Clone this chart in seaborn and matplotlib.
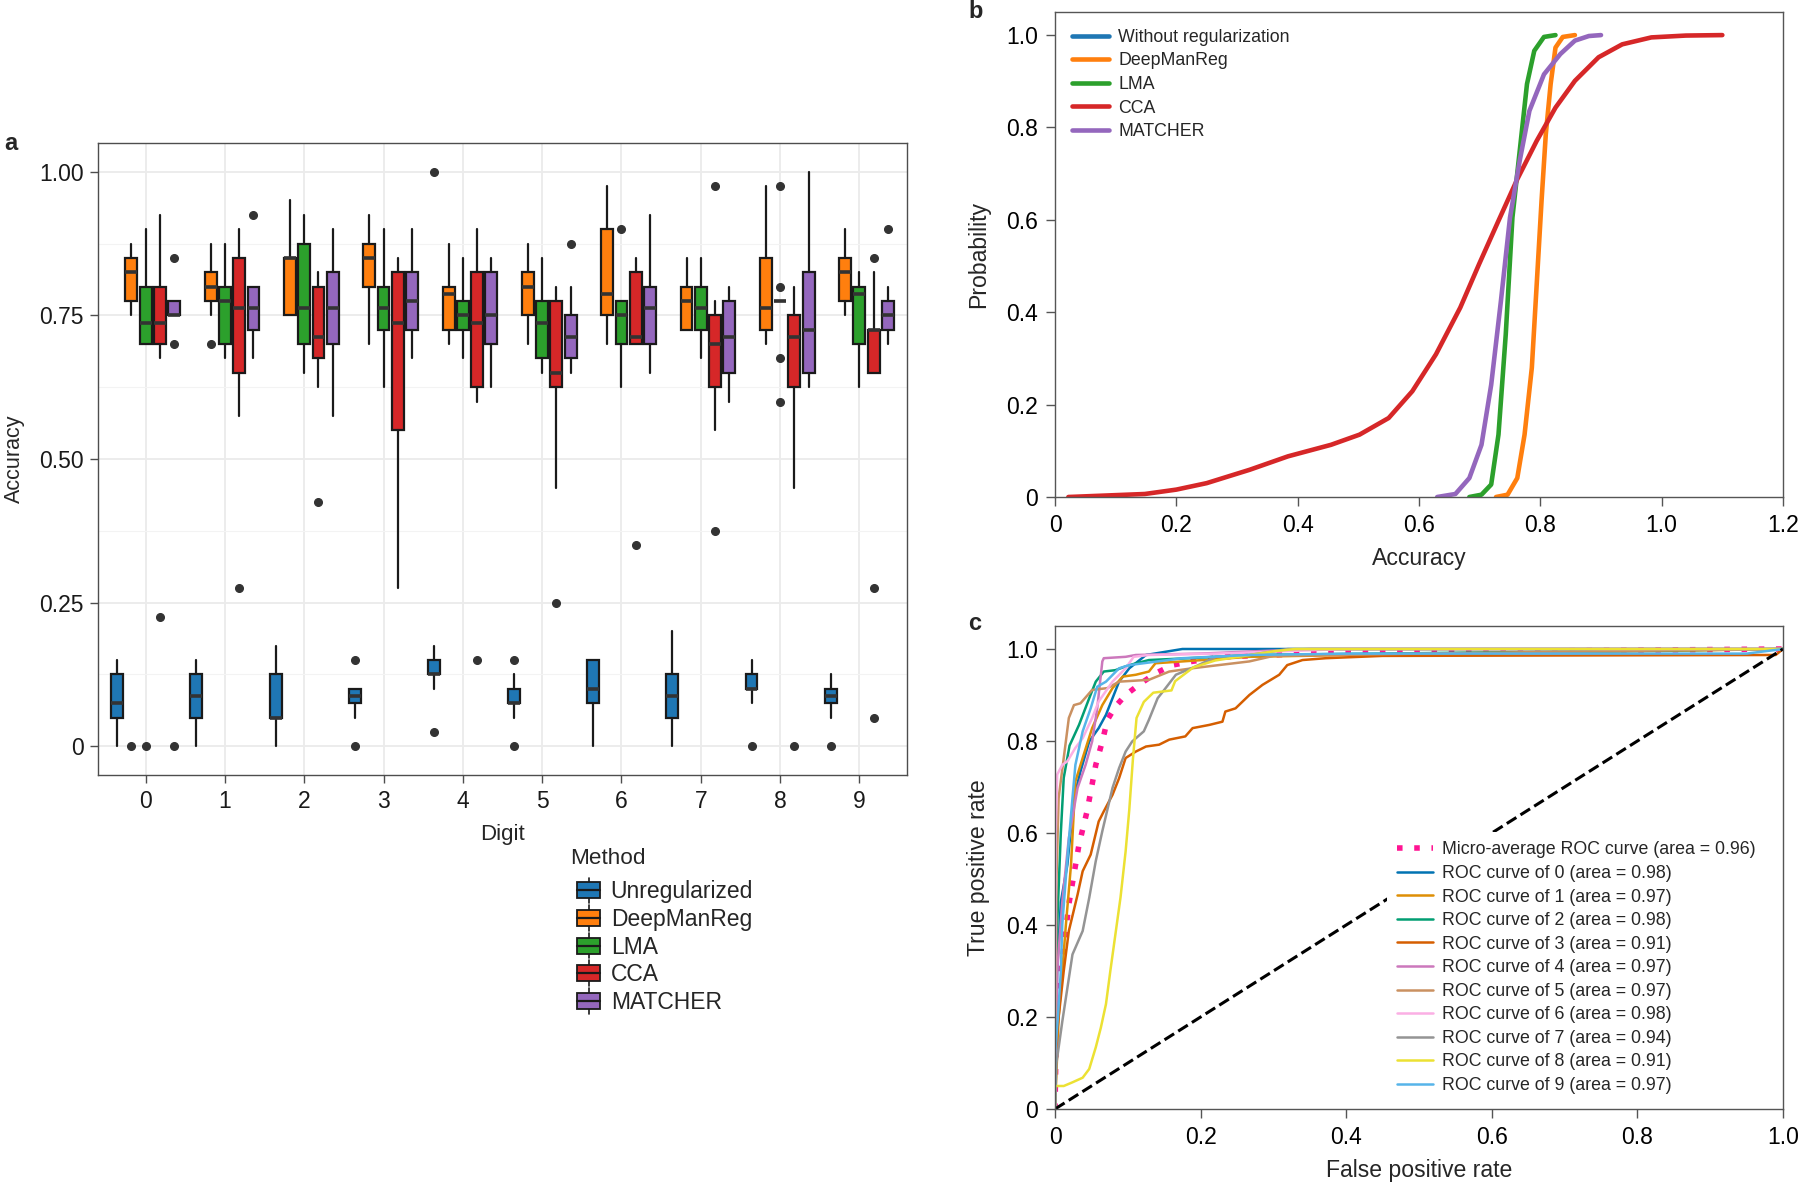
import matplotlib
matplotlib.use("Agg")
import matplotlib.pyplot as plt
from matplotlib.legend_handler import HandlerBase
from matplotlib.lines import Line2D
from matplotlib.patches import Patch, Rectangle
import seaborn as sns

# ---------------- data: panel a (box summaries) ----------------
digits = list(range(10))
methods = ["Unregularized", "DeepManReg", "LMA", "CCA", "MATCHER"]
method_colors = ["#1F77B4", "#FF7F0E", "#2CA02C", "#D62728", "#9467BD"]

# (whislo, q1, median, q3, whishi) per digit
unreg_stats = [(0, 0.05, 0.075, 0.125, 0.15), (0, 0.05, 0.0875, 0.125, 0.15),
               (0, 0.05, 0.05, 0.125, 0.175), (0.05, 0.075, 0.0875, 0.1, 0.1),
               (0.1, 0.125, 0.125, 0.15, 0.175), (0.05, 0.075, 0.075, 0.1, 0.125),
               (0, 0.075, 0.1, 0.15, 0.15), (0, 0.05, 0.0875, 0.125, 0.2),
               (0.075, 0.1, 0.1, 0.125, 0.15), (0.05, 0.075, 0.0875, 0.1, 0.125)]
unreg_fliers = [[], [], [], [0.15, 0], [1.0, 0.025], [0.15, 0], [], [], [0], [0]]

dmr_stats = [(0.75, 0.775, 0.825, 0.85, 0.875), (0.75, 0.775, 0.8, 0.825, 0.875),
             (0.75, 0.75, 0.85, 0.85, 0.95), (0.7, 0.8, 0.85, 0.875, 0.925),
             (0.7, 0.725, 0.7875, 0.8, 0.875), (0.7, 0.75, 0.8, 0.825, 0.875),
             (0.7, 0.75, 0.7875, 0.9, 0.975), (0.725, 0.725, 0.775, 0.8, 0.85),
             (0.7, 0.725, 0.7625, 0.85, 0.975), (0.75, 0.775, 0.825, 0.85, 0.9)]
dmr_fliers = [[0], [0.7], [], [], [], [], [], [], [], []]

lma_stats = [(0.7, 0.7, 0.7375, 0.8, 0.9), (0.675, 0.7, 0.775, 0.8, 0.875),
             (0.65, 0.7, 0.7625, 0.875, 0.925), (0.625, 0.725, 0.7625, 0.8, 0.9),
             (0.675, 0.725, 0.75, 0.775, 0.85), (0.65, 0.675, 0.7375, 0.775, 0.85),
             (0.625, 0.7, 0.75, 0.775, 0.775), (0.675, 0.725, 0.7625, 0.8, 0.85),
             (0.775, 0.775, 0.775, 0.775, 0.775), (0.625, 0.7, 0.7875, 0.8, 0.825)]
lma_fliers = [[0], [], [], [], [], [], [0.9], [], [0.975, 0.8, 0.675, 0.6], []]

cca_stats = [(0.675, 0.7, 0.7375, 0.8, 0.925), (0.575, 0.65, 0.7625, 0.85, 0.9),
             (0.625, 0.675, 0.7125, 0.8, 0.825), (0.275, 0.55, 0.7375, 0.825, 0.85),
             (0.6, 0.625, 0.7375, 0.825, 0.9), (0.45, 0.625, 0.65, 0.775, 0.8),
             (0.7, 0.7, 0.7125, 0.825, 0.85), (0.55, 0.625, 0.7, 0.75, 0.775),
             (0.45, 0.625, 0.7125, 0.75, 0.8), (0.65, 0.65, 0.725, 0.725, 0.825)]
cca_fliers = [[0.225], [0.275], [0.425], [], [0.15], [0.25], [0.35], [0.975, 0.375],
              [0], [0.85, 0.275, 0.05]]

matcher_stats = [(0.75, 0.75, 0.75, 0.775, 0.775), (0.675, 0.725, 0.7625, 0.8, 0.8),
                 (0.575, 0.7, 0.7625, 0.825, 0.9), (0.675, 0.725, 0.775, 0.825, 0.9),
                 (0.625, 0.7, 0.75, 0.825, 0.85), (0.65, 0.675, 0.7125, 0.75, 0.8),
                 (0.65, 0.7, 0.7625, 0.8, 0.925), (0.6, 0.65, 0.7125, 0.775, 0.8),
                 (0.625, 0.65, 0.725, 0.825, 1.0), (0.7, 0.725, 0.75, 0.775, 0.8)]
matcher_fliers = [[0.85, 0.7, 0], [0.925], [], [], [], [0.875], [], [], [], [0.9]]

all_stats = [unreg_stats, dmr_stats, lma_stats, cca_stats, matcher_stats]
all_fliers = [unreg_fliers, dmr_fliers, lma_fliers, cca_fliers, matcher_fliers]

# ---------------- data: panel b (cumulative curves) ----------------
cdf_labels = ["Without regularization", "DeepManReg", "LMA", "CCA", "MATCHER"]
dmr_x = [0.727, 0.746, 0.762, 0.774, 0.786, 0.794, 0.802, 0.809, 0.817, 0.825, 0.837, 0.857]
dmr_y = [0, 0.005, 0.041, 0.135, 0.28, 0.46, 0.641, 0.785, 0.894, 0.973, 0.996, 1.0]
lma_x = [0.683, 0.703, 0.719, 0.731, 0.743, 0.754, 0.766, 0.778, 0.79, 0.806, 0.825]
lma_y = [0, 0.005, 0.027, 0.135, 0.352, 0.605, 0.749, 0.894, 0.966, 0.996, 1.0]
cca_x = [0.022, 0.148, 0.2, 0.25, 0.321, 0.384, 0.455, 0.502, 0.55, 0.589, 0.628, 0.668,
         0.699, 0.731, 0.762, 0.794, 0.825, 0.857, 0.896, 0.935, 0.983, 1.04, 1.1]
cca_y = [0, 0.0065, 0.016, 0.03, 0.059, 0.088, 0.113, 0.135, 0.171, 0.229, 0.309, 0.41,
         0.504, 0.598, 0.688, 0.771, 0.843, 0.901, 0.952, 0.98, 0.995, 0.999, 1.0]
matcher_x = [0.63, 0.66, 0.683, 0.703, 0.719, 0.735, 0.75, 0.766, 0.782, 0.806, 0.833,
             0.857, 0.88, 0.9]
matcher_y = [0, 0.0065, 0.041, 0.113, 0.243, 0.424, 0.605, 0.728, 0.836, 0.915, 0.959,
             0.988, 0.998, 1.0]

# ---------------- data: panel c (ROC curves) ----------------
roc_areas = [0.98, 0.97, 0.98, 0.91, 0.97, 0.97, 0.98, 0.94, 0.91, 0.97]
micro_area = 0.96
micro_fpr = [0, 0.002, 0.006, 0.012, 0.019, 0.033, 0.044, 0.056, 0.065, 0.072, 0.083, 0.097,
             0.115, 0.138, 0.161, 0.188, 0.23, 0.35, 0.6, 1.0]
micro_tpr = [0, 0.2, 0.27, 0.35, 0.445, 0.575, 0.647, 0.748, 0.799, 0.846, 0.875, 0.9,
             0.922, 0.947, 0.965, 0.973, 0.983, 0.99, 0.995, 1.0]
roc_fpr = [
    [0, 0.003, 0.008, 0.017, 0.026, 0.035, 0.047, 0.06, 0.07, 0.079, 0.088, 0.102, 0.125, 0.175, 1.0],
    [0, 0.005, 0.01, 0.015, 0.022, 0.028, 0.038, 0.051, 0.065, 0.079, 0.093, 0.111, 0.129, 0.138,
     0.175, 0.267, 0.404, 0.6, 1.0],
    [0, 0.003, 0.008, 0.012, 0.02, 0.033, 0.047, 0.056, 0.067, 0.083, 0.102, 0.129, 0.184, 0.267,
     0.45, 1.0],
    [0, 0.002, 0.005, 0.012, 0.019, 0.031, 0.038, 0.049, 0.06, 0.067, 0.079, 0.088, 0.097, 0.111,
     0.125, 0.143, 0.157, 0.179, 0.189, 0.212, 0.23, 0.234, 0.248, 0.267, 0.285, 0.308, 0.319,
     0.34, 0.372, 0.45, 0.99, 1.0],
    [0, 0.003, 0.01, 0.019, 0.031, 0.042, 0.051, 0.058, 0.065, 0.067, 0.097, 0.111, 0.2, 0.35, 1.0],
    [0, 0.002, 0.005, 0.012, 0.019, 0.026, 0.035, 0.051, 0.072, 0.088, 0.129, 0.157, 0.188, 0.267,
     0.3, 0.5, 1.0],
    [0, 0.001, 0.003, 0.01, 0.017, 0.028, 0.038, 0.051, 0.06, 0.079, 0.097, 0.108, 0.129, 0.221,
     0.4, 1.0],
    [0, 0.002, 0.01, 0.024, 0.038, 0.047, 0.056, 0.065, 0.079, 0.088, 0.097, 0.106, 0.122, 0.129,
     0.141, 0.15, 0.166, 0.193, 0.221, 0.267, 0.32, 1.0],
    [0, 0, 0.012, 0.024, 0.038, 0.047, 0.056, 0.063, 0.07, 0.076, 0.083, 0.09, 0.097, 0.102,
     0.107, 0.112, 0.122, 0.135, 0.16, 0.165, 0.19, 0.22, 0.26, 0.3, 0.33, 1.0],
    [0, 0, 0.004, 0.008, 0.01, 0.017, 0.024, 0.028, 0.038, 0.049, 0.058, 0.07, 0.088, 0.102,
     0.175, 0.267, 0.404, 0.95, 1.0],
]
roc_tpr = [
    [0, 0.3, 0.45, 0.531, 0.676, 0.734, 0.799, 0.828, 0.857, 0.893, 0.929, 0.958, 0.987, 1.0, 1.0],
    [0, 0.2, 0.3, 0.401, 0.531, 0.712, 0.763, 0.828, 0.878, 0.915, 0.94, 0.944, 0.951, 0.969,
     0.973, 0.983, 0.987, 0.99, 1.0],
    [0, 0.4, 0.6, 0.72, 0.79, 0.835, 0.893, 0.929, 0.951, 0.954, 0.965, 0.976, 0.98, 0.987,
     0.99, 1.0],
    [0, 0.15, 0.2, 0.3, 0.387, 0.466, 0.517, 0.553, 0.625, 0.647, 0.683, 0.719, 0.763, 0.777,
     0.788, 0.792, 0.803, 0.81, 0.828, 0.835, 0.842, 0.864, 0.871, 0.9, 0.922, 0.944, 0.965,
     0.976, 0.98, 0.985, 0.987, 1.0],
    [0, 0.3, 0.45, 0.589, 0.698, 0.748, 0.799, 0.871, 0.973, 0.98, 0.983, 0.987, 0.99, 1.0, 1.0],
    [0, 0.5, 0.676, 0.763, 0.85, 0.878, 0.882, 0.911, 0.915, 0.929, 0.933, 0.951, 0.958, 0.973,
     0.985, 0.99, 1.0],
    [0, 0.6, 0.727, 0.748, 0.756, 0.785, 0.806, 0.85, 0.886, 0.929, 0.958, 0.983, 0.987, 0.99,
     1.0, 1.0],
    [0, 0.1, 0.19, 0.336, 0.387, 0.459, 0.539, 0.604, 0.698, 0.741, 0.777, 0.799, 0.821, 0.846,
     0.893, 0.911, 0.944, 0.962, 0.983, 0.987, 1.0, 1.0],
    [0, 0.05, 0.05, 0.058, 0.068, 0.087, 0.134, 0.177, 0.228, 0.3, 0.38, 0.46, 0.56, 0.65,
     0.76, 0.85, 0.885, 0.905, 0.91, 0.93, 0.96, 0.975, 0.985, 0.995, 1.0, 1.0],
    [0, 0.12, 0.2, 0.3, 0.401, 0.546, 0.676, 0.748, 0.821, 0.871, 0.918, 0.929, 0.958, 0.965,
     0.98, 0.987, 0.99, 0.99, 1.0],
]

# ---------------- style ----------------
sns.set_theme(style="ticks")
plt.rcParams["font.family"] = ["Liberation Sans", "DejaVu Sans"]

fig = plt.figure(figsize=(18, 11.85), dpi=100)
W, H = 1800, 1185


def axes_px(left, top, right, bottom):
    return fig.add_axes([left / W, 1 - bottom / H, (right - left) / W, (bottom - top) / H])


# ---------------- panel a ----------------
ax_a = axes_px(98, 143, 907, 775)
offsets = [-0.36, -0.18, 0, 0.18, 0.36]
for m, (stats_m, fl_m) in enumerate(zip(all_stats, all_fliers)):
    bstats = []
    for d in digits:
        lo, q1, med, q3, hi = stats_m[d]
        bstats.append(dict(whislo=lo, q1=q1, med=med, q3=q3, whishi=hi, fliers=fl_m[d]))
    ax_a.bxp(bstats, positions=[d + offsets[m] for d in digits], widths=0.15,
             patch_artist=True, showcaps=False, manage_ticks=False,
             boxprops=dict(facecolor=method_colors[m], edgecolor="#1a1a1a", linewidth=1.6),
             medianprops=dict(color="#333333", linewidth=2.6),
             whiskerprops=dict(color="#1a1a1a", linewidth=1.6),
             flierprops=dict(marker="o", markerfacecolor="#333333", markeredgecolor="#333333",
                             markersize=5.5))

ax_a.set_xlim(-0.6, 9.6)
ax_a.set_ylim(-0.05, 1.05)
ax_a.set_xticks(digits)
ax_a.set_xticklabels([str(d) for d in digits])
ax_a.set_yticks([0, 0.25, 0.5, 0.75, 1.0])
ax_a.set_yticklabels(["0", "0.25", "0.50", "0.75", "1.00"])
ax_a.set_yticks([0.125, 0.375, 0.625, 0.875], minor=True)
ax_a.grid(True, which="major", color="#EBEBEB", linewidth=1.3)
ax_a.grid(True, which="minor", axis="y", color="#F3F3F3", linewidth=0.8)
ax_a.set_axisbelow(True)
ax_a.tick_params(axis="both", which="major", direction="out", length=5.5, width=1,
                 color="#4d4d4d", labelsize=16.5, labelcolor="#1a1a1a", pad=5)
ax_a.tick_params(axis="y", which="minor", length=0)
for s in ax_a.spines.values():
    s.set_color("#4d4d4d")
    s.set_linewidth(1)
ax_a.set_xlabel("Digit", fontsize=16, labelpad=8)
ax_a.set_ylabel("Accuracy", fontsize=15.5, labelpad=10)


class BoxHandler(HandlerBase):
    def create_artists(self, legend, orig_handle, xdescent, ydescent, width, height,
                       fontsize, trans):
        x0, y0 = -xdescent, -ydescent
        cx = x0 + width / 2
        whisk = Line2D([cx, cx], [y0 - 0.3 * height, y0 + 1.3 * height], color="#1a1a1a", lw=1.2)
        box = Rectangle((x0, y0), width, height, facecolor=orig_handle.get_facecolor(),
                        edgecolor="#1a1a1a", lw=1.3)
        med = Line2D([x0, x0 + width], [y0 + height / 2] * 2, color="#1a1a1a", lw=1.6)
        for a in (whisk, box, med):
            a.set_transform(trans)
        return [whisk, box, med]


# legend of panel a: title as its own text, entries below it
fig.text(570 / W, 1 - 859 / H, "Method", fontsize=16.2, ha="left", va="center")
handles_a = [Patch(facecolor=c) for c in method_colors]
leg_a = fig.legend(handles_a, methods, handler_map={Patch: BoxHandler()},
                   loc="upper left", bbox_to_anchor=(566 / W, 1 - 869 / H), frameon=False,
                   fontsize=16.5, handlelength=1.0, handleheight=0.7, handletextpad=0.45,
                   labelspacing=0.2, borderpad=0)

# ---------------- panel b ----------------
ax_b = axes_px(1055, 12, 1783, 497)
ax_b.plot([], [], color="#1F77B4", lw=3.3, label=cdf_labels[0])
for xs, ys, c, lab in [(dmr_x, dmr_y, "#FF7F0E", cdf_labels[1]),
                       (lma_x, lma_y, "#2CA02C", cdf_labels[2]),
                       (cca_x, cca_y, "#D62728", cdf_labels[3]),
                       (matcher_x, matcher_y, "#9467BD", cdf_labels[4])]:
    sns.lineplot(x=xs, y=ys, ax=ax_b, color=c, lw=3.3, sort=False, estimator=None, label=lab)
ax_b.set_xlim(0, 1.2)
ax_b.set_ylim(0, 1.05)
ax_b.set_xticks([0, 0.2, 0.4, 0.6, 0.8, 1.0, 1.2])
ax_b.set_xticklabels(["0", "0.2", "0.4", "0.6", "0.8", "1.0", "1.2"])
ax_b.set_yticks([0, 0.2, 0.4, 0.6, 0.8, 1.0])
ax_b.set_yticklabels(["0", "0.2", "0.4", "0.6", "0.8", "1.0"])
ax_b.set_xlabel("Accuracy", fontsize=16.6, labelpad=7)
ax_b.set_ylabel("Probability", fontsize=16.6, labelpad=11)
ax_b.legend(loc="upper left", frameon=False, fontsize=12.8, handlelength=2.1,
            handletextpad=0.5, labelspacing=0.37, borderaxespad=0.3, borderpad=0.65)

# ---------------- panel c ----------------
ax_c = axes_px(1055, 626, 1783, 1109)
roc_colors = sns.color_palette("colorblind", 10)
sns.lineplot(x=micro_fpr, y=micro_tpr, ax=ax_c, color="#FF1493", lw=4,
             linestyle=(0, (1, 2.1)), sort=False, estimator=None,
             label=f"Micro-average ROC curve (area = {micro_area:.2f})")
for i in range(10):
    sns.lineplot(x=roc_fpr[i], y=roc_tpr[i], ax=ax_c, color=roc_colors[i], lw=1.8,
                 sort=False, estimator=None,
                 label=f"ROC curve of {i} (area = {roc_areas[i]:.2f})")
ax_c.plot([0, 1], [0, 1], color="black", lw=2.2, linestyle="--")
ax_c.set_xlim(0, 1.0)
ax_c.set_ylim(0, 1.05)
ax_c.set_xticks([0, 0.2, 0.4, 0.6, 0.8, 1.0])
ax_c.set_xticklabels(["0", "0.2", "0.4", "0.6", "0.8", "1.0"])
ax_c.set_yticks([0, 0.2, 0.4, 0.6, 0.8, 1.0])
ax_c.set_yticklabels(["0", "0.2", "0.4", "0.6", "0.8", "1.0"])
ax_c.set_xlabel("False positive rate", fontsize=16.6, labelpad=7)
ax_c.set_ylabel("True positive rate", fontsize=16.6, labelpad=11)
ax_c.legend(loc="lower right", bbox_to_anchor=(1 - 12 / 728, 0), frameon=True,
            facecolor="white", edgecolor="none", framealpha=1, fancybox=False,
            fontsize=12.75, handlelength=2.0, handletextpad=0.55, labelspacing=0.37,
            borderaxespad=0.3, borderpad=0.55)

for ax in (ax_b, ax_c):
    for s in ax.spines.values():
        s.set_visible(True)
        s.set_color("#555555")
        s.set_linewidth(1)
    ax.tick_params(direction="out", length=6.5, width=1, color="#555555",
                   labelsize=16.5, labelcolor="black", pad=6)

# panel letters
fig.text(4 / W, 1 - 143 / H, "a", fontsize=17, fontweight="bold", va="center", ha="left")
fig.text(968 / W, 1 - 12 / H, "b", fontsize=17, fontweight="bold", va="center", ha="left")
fig.text(968 / W, 1 - 623 / H, "c", fontsize=17, fontweight="bold", va="center", ha="left")

fig.savefig("out.png", dpi=100)
